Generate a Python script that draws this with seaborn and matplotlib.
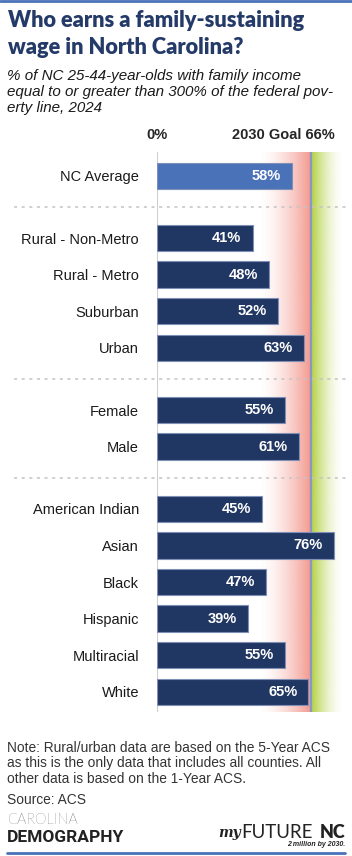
import numpy as np
import pandas as pd
import matplotlib.pyplot as plt
import seaborn as sns
from matplotlib.lines import Line2D

# Données
categories = ['NC Average', 'Rural - Non-Metro', 'Rural - Metro', 'Suburban', 'Urban',
              'Female', 'Male', 'American Indian', 'Asian', 'Black', 'Hispanic',
              'Multiracial', 'White']
values = [58, 41, 48, 52, 63, 55, 61, 45, 76, 47, 39, 55, 65]
groups = ['avg', 'geo', 'geo', 'geo', 'geo', 'sex', 'sex', 'race', 'race', 'race', 'race', 'race', 'race']
goal = 66

# positions verticales : un écart entre les groupes
gap = 0.7
positions = []
p = 0.0
for i, g in enumerate(groups):
    if i > 0:
        p += 1.0 + (gap if g != groups[i - 1] else 0.0)
    positions.append(round(p, 2))

df = pd.DataFrame({'cat': categories, 'value': values, 'pos': positions,
                   'kind': ['avg' if g == 'avg' else 'other' for g in groups]})

sns.set_style('white')
plt.rcParams['font.family'] = ['Liberation Sans', 'DejaVu Sans']

W, H = 352, 856
fig = plt.figure(figsize=(W / 100, H / 100), dpi=100)
ax = fig.add_axes([157 / W, 1 - 712 / H, 191 / W, 560 / H])

ymin, ymax = -0.65, positions[-1] + 0.55

# Dégradés autour de l'objectif
n = 200
red = np.zeros((1, n, 4))
red[..., :3] = np.array([243, 152, 142]) / 255
red[0, :, 3] = np.linspace(0, 1, n) ** 1.6
ax.imshow(red, extent=[44, goal, ymax, ymin], aspect='auto', zorder=0, interpolation='bilinear')
green = np.zeros((1, n, 4))
green[..., :3] = np.array([178, 208, 62]) / 255
green[0, :, 3] = np.linspace(1, 0, n) ** 1.7
ax.imshow(green, extent=[goal, 80, ymax, ymin], aspect='auto', zorder=0, interpolation='bilinear')
ax.axvline(goal, color='#8a97c6', lw=1.6, zorder=1)
ax.axvline(0, color='#cfcfcf', lw=1.5, zorder=1)

sns.barplot(data=df, x='value', y='pos', orient='h', native_scale=True, hue='kind',
            palette={'avg': '#4a72b8', 'other': '#213763'}, saturation=1, dodge=False,
            width=0.72, edgecolor='#7f8fb5', linewidth=0.8, legend=False, ax=ax, zorder=2)

for v, pos in zip(values, positions):
    ax.annotate(f'{v}%', (v, pos), xytext=(-8, 0), textcoords='offset points',
                ha='right', va='center', color='white', fontweight='bold', fontsize=10.5, zorder=3)

# séparateurs pointillés
for i in range(1, len(groups)):
    if groups[i] != groups[i - 1]:
        ymid = (positions[i] + positions[i - 1]) / 2
        ax.add_line(Line2D([-0.75, 1.0], [ymid, ymid], transform=ax.get_yaxis_transform(),
                           color='#c4c4c4', lw=1.1, ls=(0, (2, 3)), clip_on=False, zorder=1))

ax.set_xlim(0, 82)
ax.set_ylim(ymax, ymin)
ax.set_yticks(positions)
ax.set_yticklabels(categories, fontsize=10.5, color='#1a1a1a')
ax.tick_params(axis='y', length=0, pad=13)
ax.set_xticks([])
ax.set_xlabel('')
ax.set_ylabel('')
sns.despine(ax=ax, left=True, bottom=True)
ax.patch.set_alpha(0)

# En-têtes
ax.text(0, 1.018, '0%', transform=ax.get_xaxis_transform(), ha='center', va='bottom',
        fontweight='bold', fontsize=10.5)
ax.text(76.5, 1.018, f'2030 Goal {goal}%', transform=ax.get_xaxis_transform(), ha='right',
        va='bottom', fontweight='bold', fontsize=10.5)

# Titre et sous-titre
fig.text(8 / W, 1 - 10 / H, 'Who earns a family-sustaining\nwage in North Carolina?',
         ha='left', va='top', fontsize=15.7, fontweight='heavy', color='#243a68',
         family='Lato', linespacing=1.33)
fig.text(7 / W, 1 - 69 / H,
         '% of NC 25-44-year-olds with family income\nequal to or greater than 300% of the federal pov-\nerty line, 2024',
         ha='left', va='top', fontsize=10.9, style='italic', color='#1a1a1a', linespacing=1.2)

# Notes
fig.text(7 / W, 1 - 741 / H,
         'Note: Rural/urban data are based on the 5-Year ACS\nas this is the only data that includes all counties. All\nother data is based on the 1-Year ACS.',
         ha='left', va='top', fontsize=9.95, color='#333333', linespacing=1.13)
fig.text(7 / W, 1 - 793 / H, 'Source: ACS', ha='left', va='top', fontsize=9.95, color='#333333')

# Logos
fig.text(7 / W, 1 - 813 / H, 'CAROLINA', ha='left', va='top', fontsize=10.5, color='#222222',
         family='Lato', fontweight='light')
fig.text(7 / W, 1 - 830 / H, 'DEMOGRAPHY', ha='left', va='top', fontsize=12.5, color='#222222',
         family='Roboto', fontweight='bold')
nc = fig.text(345 / W, 1 - 824 / H, 'NC', ha='right', va='top', fontsize=13, color='#222222',
              family='Lato', fontweight='heavy')
fut = fig.text(313 / W, 1 - 824 / H, 'FUTURE', ha='right', va='top', fontsize=13.5, color='#222222',
               family='Lato', fontweight='normal')
fig.canvas.draw()
x_fut = fut.get_window_extent().x0
fig.text(x_fut / W - 1 / W, 1 - 826 / H, 'my', ha='right', va='top', fontsize=10, style='italic',
         fontweight='bold', color='#222222', family='DejaVu Serif')
fig.text(345 / W, 1 - 841 / H, '2 million by 2030.', ha='right', va='top', fontsize=5,
         style='italic', fontweight='bold', color='#222222')

# Filets bleus haut et bas
fig.add_artist(Line2D([0, 1], [1 - 1 / H, 1 - 1 / H], transform=fig.transFigure, color='#4a72b8', lw=2))
fig.add_artist(Line2D([7 / W, 345 / W], [1 - 853 / H, 1 - 853 / H], transform=fig.transFigure,
                      color='#4a72b8', lw=2))

fig.savefig('out.png', dpi=100)
